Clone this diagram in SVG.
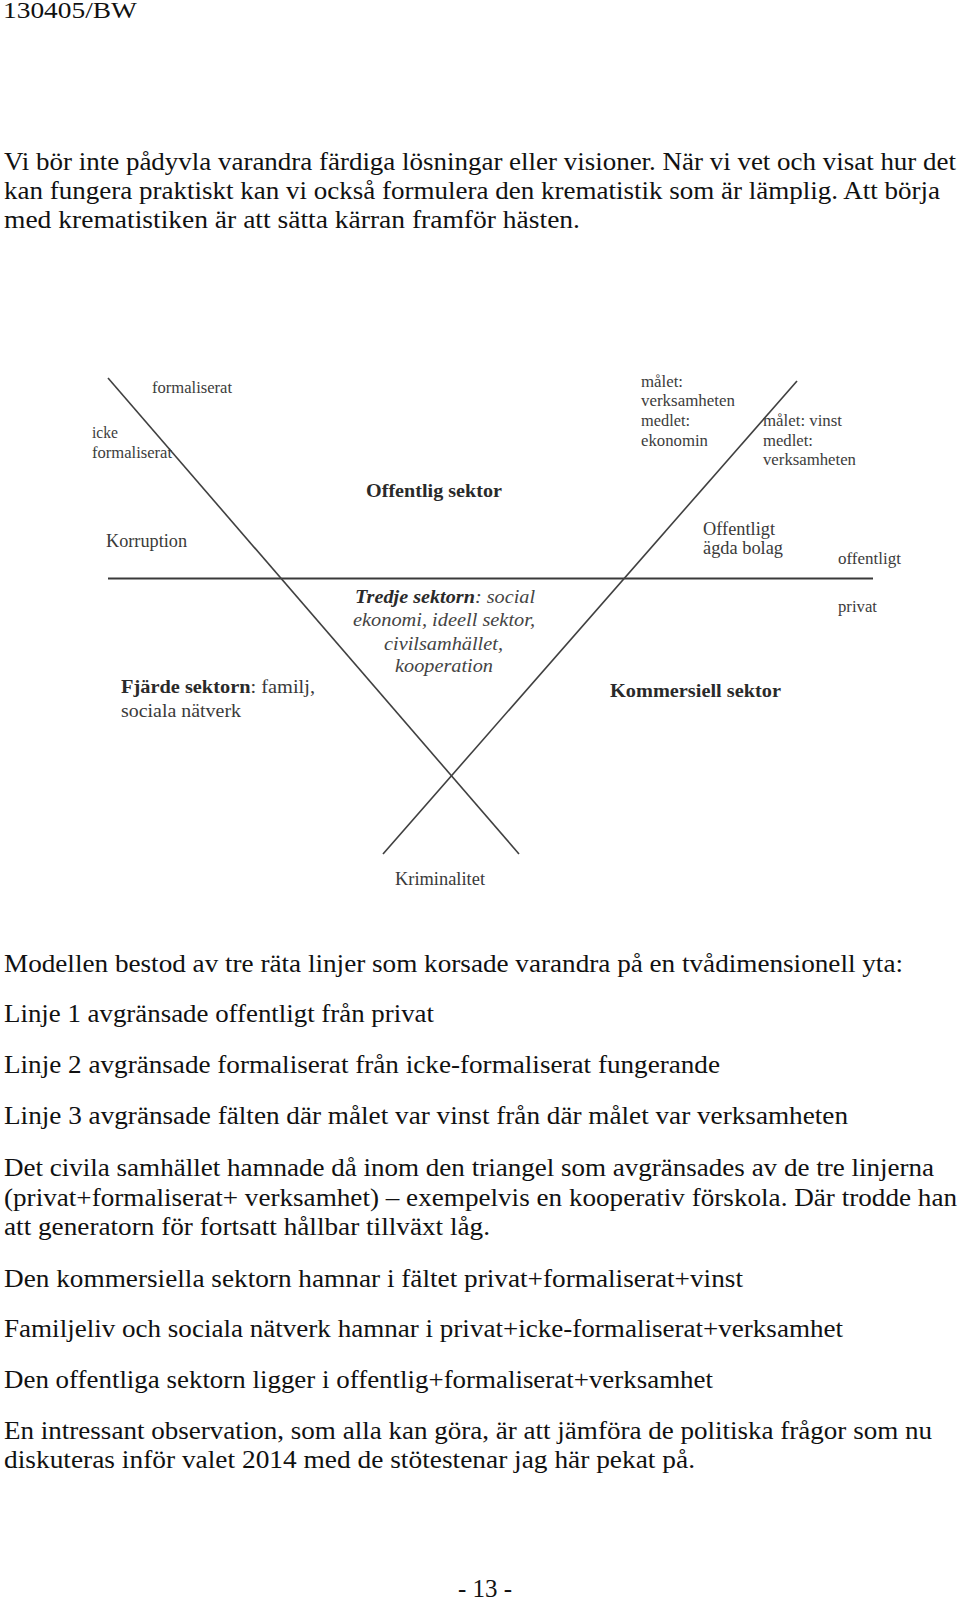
<svg xmlns="http://www.w3.org/2000/svg" width="960" height="1603" viewBox="0 0 960 1603">
<style>
.body{font-family:"Liberation Serif","Times New Roman",serif;font-size:26px;fill:#111}
.lbl{font-family:"Liberation Serif","Times New Roman",serif;font-size:16.5px;fill:#3c3c3c}
.mid{font-family:"Liberation Serif","Times New Roman",serif;font-size:18px;fill:#3a3a3a}
.bold{font-family:"Liberation Serif","Times New Roman",serif;font-size:19px;font-weight:bold;fill:#2a2a2a}
.ital{font-family:"Liberation Serif","Times New Roman",serif;font-size:19px;font-style:italic;fill:#444}
.ln{stroke:#404040;stroke-width:1.6;fill:none}
.hl{stroke:#3a3a3a;stroke-width:2.2;fill:none}
</style>
<rect width="960" height="1603" fill="#ffffff"/>

<g id="page-text" class="body">
  <text x="3" y="18" font-size="23" textLength="134" lengthAdjust="spacingAndGlyphs">130405/BW</text>
  <text x="4" y="170" textLength="952" lengthAdjust="spacingAndGlyphs">Vi bör inte pådyvla varandra färdiga lösningar eller visioner. När vi vet och visat hur det</text>
  <text x="4" y="199" textLength="936" lengthAdjust="spacingAndGlyphs">kan fungera praktiskt kan vi också formulera den krematistik som är lämplig. Att börja</text>
  <text x="4" y="228" textLength="576" lengthAdjust="spacingAndGlyphs">med krematistiken är att sätta kärran framför hästen.</text>

  <text x="4" y="972" textLength="899" lengthAdjust="spacingAndGlyphs">Modellen bestod av tre räta linjer som korsade varandra på en tvådimensionell yta:</text>
  <text x="4" y="1022" textLength="430" lengthAdjust="spacingAndGlyphs">Linje 1 avgränsade offentligt från privat</text>
  <text x="4" y="1073" textLength="716" lengthAdjust="spacingAndGlyphs">Linje 2 avgränsade formaliserat från icke-formaliserat fungerande</text>
  <text x="4" y="1124" textLength="844" lengthAdjust="spacingAndGlyphs">Linje 3 avgränsade fälten där målet var vinst från där målet var verksamheten</text>
  <text x="4" y="1176" textLength="930" lengthAdjust="spacingAndGlyphs">Det civila samhället hamnade då inom den triangel som avgränsades av de tre linjerna</text>
  <text x="4" y="1206" textLength="953" lengthAdjust="spacingAndGlyphs">(privat+formaliserat+ verksamhet) – exempelvis en kooperativ förskola. Där trodde han</text>
  <text x="4" y="1235" textLength="486" lengthAdjust="spacingAndGlyphs">att generatorn för fortsatt hållbar tillväxt låg.</text>
  <text x="4" y="1287" textLength="739" lengthAdjust="spacingAndGlyphs">Den kommersiella sektorn hamnar i fältet privat+formaliserat+vinst</text>
  <text x="4" y="1337" textLength="839" lengthAdjust="spacingAndGlyphs">Familjeliv och sociala nätverk hamnar i privat+icke-formaliserat+verksamhet</text>
  <text x="4" y="1388" textLength="709" lengthAdjust="spacingAndGlyphs">Den offentliga sektorn ligger i offentlig+formaliserat+verksamhet</text>
  <text x="4" y="1439" textLength="928" lengthAdjust="spacingAndGlyphs">En intressant observation, som alla kan göra, är att jämföra de politiska frågor som nu</text>
  <text x="4" y="1468" textLength="691" lengthAdjust="spacingAndGlyphs">diskuteras inför valet 2014 med de stötestenar jag här pekat på.</text>
  <text x="458" y="1597" textLength="54" lengthAdjust="spacingAndGlyphs">- 13 -</text>
</g>

<g id="connectors">
  <line class="hl" x1="108" y1="578.5" x2="873" y2="578.5"/>
  <line class="ln" x1="108" y1="378" x2="519" y2="854"/>
  <line class="ln" x1="797" y1="381" x2="383" y2="854"/>
</g>

<g id="formaliserat">
  <text class="lbl" x="152" y="393" textLength="80" lengthAdjust="spacingAndGlyphs">formaliserat</text>
</g>
<g id="icke-formaliserat">
  <text class="lbl" x="92" y="438" textLength="26" lengthAdjust="spacingAndGlyphs">icke</text>
  <text class="lbl" x="92" y="458" textLength="80" lengthAdjust="spacingAndGlyphs">formaliserat</text>
</g>
<g id="korruption">
  <text class="mid" x="106" y="547" textLength="81" lengthAdjust="spacingAndGlyphs">Korruption</text>
</g>
<g id="offentlig-sektor">
  <text class="bold" x="366" y="497" textLength="136" lengthAdjust="spacingAndGlyphs">Offentlig sektor</text>
</g>
<g id="malet-verksamheten">
  <text class="lbl" x="641" y="387" textLength="42" lengthAdjust="spacingAndGlyphs">målet:</text>
  <text class="lbl" x="641" y="406" textLength="94" lengthAdjust="spacingAndGlyphs">verksamheten</text>
  <text class="lbl" x="641" y="426" textLength="49" lengthAdjust="spacingAndGlyphs">medlet:</text>
  <text class="lbl" x="641" y="446" textLength="67" lengthAdjust="spacingAndGlyphs">ekonomin</text>
</g>
<g id="malet-vinst">
  <text class="lbl" x="763" y="426" textLength="79" lengthAdjust="spacingAndGlyphs">målet: vinst</text>
  <text class="lbl" x="763" y="446" textLength="50" lengthAdjust="spacingAndGlyphs">medlet:</text>
  <text class="lbl" x="763" y="465" textLength="93" lengthAdjust="spacingAndGlyphs">verksamheten</text>
</g>
<g id="offentligt-agda-bolag">
  <text class="mid" x="703" y="535" textLength="72" lengthAdjust="spacingAndGlyphs">Offentligt</text>
  <text class="mid" x="703" y="554" textLength="80" lengthAdjust="spacingAndGlyphs">ägda bolag</text>
</g>
<g id="offentligt">
  <text class="lbl" x="838" y="564" textLength="63" lengthAdjust="spacingAndGlyphs">offentligt</text>
</g>
<g id="privat">
  <text class="lbl" x="838" y="612" textLength="39" lengthAdjust="spacingAndGlyphs">privat</text>
</g>
<g id="tredje-sektorn">
  <text class="ital" x="355" y="603" textLength="180" lengthAdjust="spacingAndGlyphs"><tspan font-weight="bold" fill="#2a2a2a">Tredje sektorn</tspan>: social</text>
  <text class="ital" x="353" y="626" textLength="182" lengthAdjust="spacingAndGlyphs">ekonomi, ideell sektor,</text>
  <text class="ital" x="384" y="650" textLength="119" lengthAdjust="spacingAndGlyphs">civilsamhället,</text>
  <text class="ital" x="395" y="672" textLength="98" lengthAdjust="spacingAndGlyphs">kooperation</text>
</g>
<g id="fjarde-sektorn">
  <text class="mid" x="121" y="693" font-size="19" textLength="194" lengthAdjust="spacingAndGlyphs"><tspan font-weight="bold" fill="#2a2a2a">Fjärde sektorn</tspan>: familj,</text>
  <text class="mid" x="121" y="717" font-size="19" textLength="120" lengthAdjust="spacingAndGlyphs">sociala nätverk</text>
</g>
<g id="kommersiell-sektor">
  <text class="bold" x="610" y="697" font-size="20" textLength="171" lengthAdjust="spacingAndGlyphs">Kommersiell sektor</text>
</g>
<g id="kriminalitet">
  <text class="mid" x="395" y="885" font-size="17.5" fill="#222" textLength="90" lengthAdjust="spacingAndGlyphs">Kriminalitet</text>
</g>
</svg>
